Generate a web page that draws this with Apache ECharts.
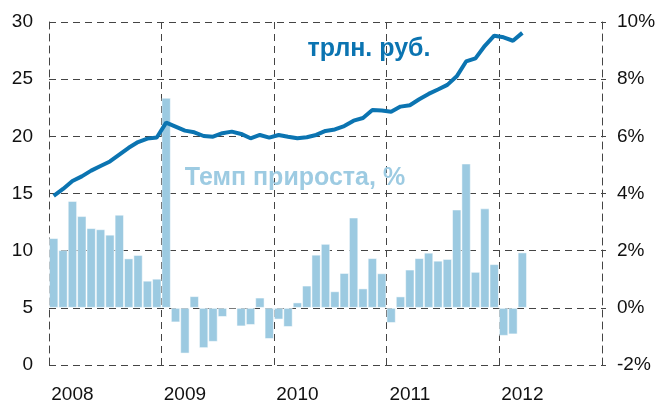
<!DOCTYPE html>
<html>
<head>
<meta charset="utf-8">
<script src="https://cdn.jsdelivr.net/npm/echarts@6/dist/echarts.min.js"></script>
<style>
    html, body { margin: 0; padding: 0; background: #fff; }
    #chart { width: 668px; height: 405px; }
</style>
</head>
<body>
<div id="chart"></div>
<script>
// месяцы: янв 2008 - ноя 2012
const years = ['2008', '2009', '2010', '2011', '2012'];
const months = ['01', '02', '03', '04', '05', '06', '07', '08', '09', '10', '11', '12'];
const categories = [];
years.forEach(y => months.forEach(m => categories.push(y + '-' + m)));
categories.splice(59);

// трлн. руб.
const volume = [
    14.8, 15.4, 16.1, 16.5, 17.0, 17.4, 17.8, 18.4, 19.0, 19.5, 19.8, 19.9,
    21.2, 20.85, 20.5, 20.35, 20.03, 19.97, 20.27, 20.41, 20.21, 19.83, 20.12, 19.89,
    20.12, 19.97, 19.83, 19.92, 20.12, 20.47, 20.6, 20.9, 21.37, 21.6, 22.3, 22.25,
    22.15, 22.6, 22.72, 23.24, 23.71, 24.1, 24.5, 25.25, 26.55, 26.82, 27.92, 28.8,
    28.66, 28.36, 29.05
];

// темп прироста, %
const growth = [
    2.44, 2.02, 3.74, 3.21, 2.79, 2.75, 2.56, 3.26, 1.73, 1.85, 0.95, 1.02,
    7.35, -0.51, -1.6, 0.41, -1.41, -1.19, -0.32, 0, -0.65, -0.6, 0.36, -1.09,
    -0.41, -0.67, 0.19, 0.78, 1.86, 2.24, 0.58, 1.22, 3.16, 0.68, 1.74, 1.21,
    -0.53, 0.4, 1.34, 1.74, 1.93, 1.65, 1.71, 3.44, 5.05, 1.26, 3.48, 1.53,
    -0.98, -0.93, 1.94
];

const labelFont = { fontFamily: 'Liberation Sans, Arial, sans-serif', fontSize: 19, color: '#111' };
const dash = { color: '#444', width: 1, type: [7, 5] };

var myChart = echarts.init(document.getElementById('chart'));
var option = {
    animation: false,
    grid: { left: 49, right: 66, top: 22, bottom: 40 },
    xAxis: {
        type: 'category',
        data: categories,
        boundaryGap: true,
        axisLine: { show: false },
        axisTick: { show: false },
        splitLine: {
            show: true,
            interval: (i) => i % 12 === 0,
            lineStyle: dash
        },
        axisLabel: {
            ...labelFont,
            margin: 20,
            interval: (i) => i % 12 === 2,
            formatter: (v) => v.slice(0, 4)
        }
    },
    yAxis: [{
        type: 'value',
        min: 0,
        max: 30,
        interval: 5,
        axisLine: { show: true, lineStyle: dash },
        axisTick: { show: false },
        splitLine: { show: true, lineStyle: dash },
        axisLabel: { ...labelFont, margin: 16 }
    }, {
        type: 'value',
        min: -2,
        max: 10,
        interval: 2,
        axisLine: { show: true, lineStyle: dash },
        axisTick: { show: true, length: 4, lineStyle: { color: '#444' } },
        splitLine: { show: false },
        axisLabel: { ...labelFont, margin: 15, formatter: '{value}%' }
    }],
    graphic: [{
        type: 'text',
        x: 369, y: 49,
        style: {
            text: 'трлн. руб.',
            font: 'bold 25px Liberation Sans, Arial, sans-serif',
            fill: '#0b74b1',
            textAlign: 'center',
            textVerticalAlign: 'middle'
        },
        z: 10
    }, {
        type: 'text',
        x: 295, y: 178,
        style: {
            text: 'Темп прироста, %',
            font: 'bold 25px Liberation Sans, Arial, sans-serif',
            fill: '#9dcbe2',
            textAlign: 'center',
            textVerticalAlign: 'middle'
        },
        z: 10
    }],
    series: [{
        name: 'Темп прироста, %',
        type: 'bar',
        yAxisIndex: 1,
        data: growth,
        barCategoryGap: 0,
        itemStyle: { color: '#9ccae1', borderColor: 'rgba(255,255,255,0.5)', borderWidth: 1 },
        z: 2
    }, {
        name: 'трлн. руб.',
        type: 'line',
        yAxisIndex: 0,
        data: volume,
        symbol: 'none',
        lineStyle: { color: '#0b74b1', width: 4 },
        z: 3
    }]
};
option && myChart.setOption(option);
</script>
</body>
</html>
